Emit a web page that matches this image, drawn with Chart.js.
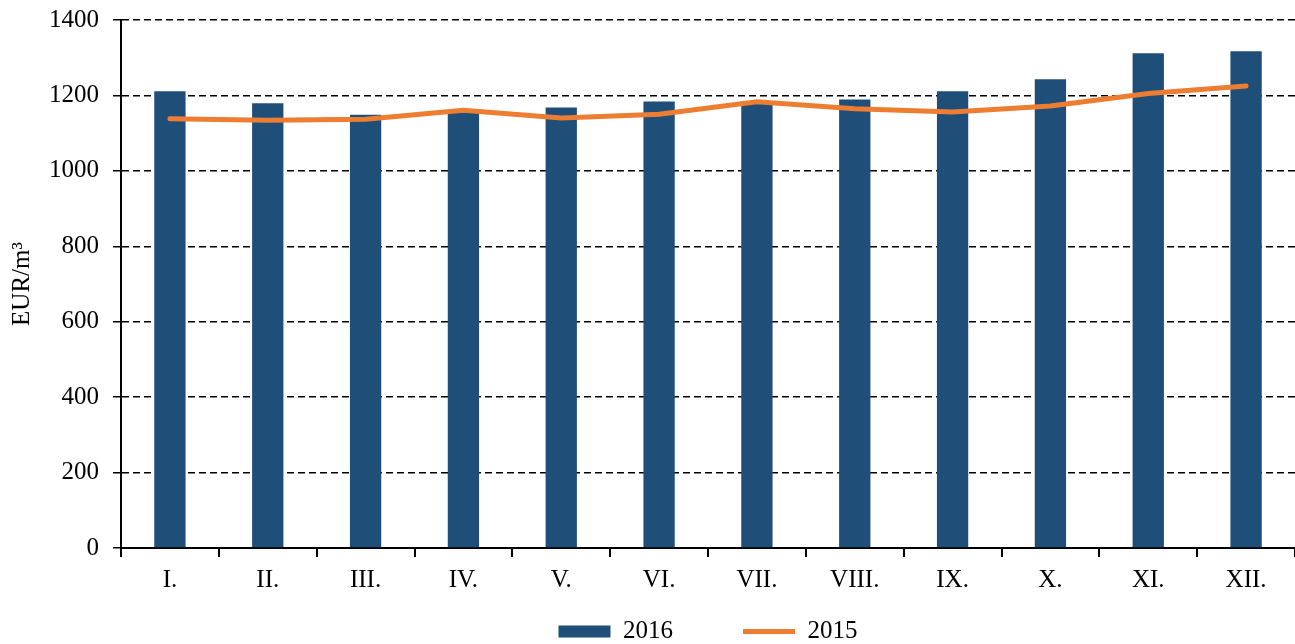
<!DOCTYPE html>
<html>
<head>
<meta charset="utf-8">
<script src="https://cdn.jsdelivr.net/npm/chart.js@4.4.0/dist/chart.umd.min.js"></script>
<style>
    html, body { margin: 0; padding: 0; background: #fff; }
    #wrap { width: 1295px; height: 644px; }
</style>
</head>
<body>
<div id="wrap"><canvas id="chart" width="1295" height="644"></canvas></div>
<script>
// months (roman numerals) and prices in EUR/m3
const months = ['I.', 'II.', 'III.', 'IV.', 'V.', 'VI.', 'VII.', 'VIII.', 'IX.', 'X.', 'XI.', 'XII.'];
const values2016 = [1211, 1179, 1149, 1158, 1168, 1184, 1180, 1189, 1211, 1243, 1312, 1317];
const values2015 = [1138, 1134, 1137, 1161, 1140, 1150, 1183, 1165, 1156, 1172, 1205, 1225];
const yTicks = [0, 200, 400, 600, 800, 1000, 1200, 1400];

const font = 'Liberation Serif';

// legend padding is big (for the gap between items), so its box is cut
// short and then stretched upwards over the empty strip under the labels,
// and centred under the plot instead of the whole canvas
const legendShift = {
    id: 'legendShift',
    afterLayout(chart) {
        chart.legend.top = chart.legend.bottom - 95;
        chart.legend.left = chart.chartArea.left;
    }
};

var chart = new Chart(document.getElementById('chart'), {
    data: {
        labels: months,
        datasets: [{
            type: 'line',
            label: '2015',
            data: values2015,
            borderColor: '#ED7D31',
            backgroundColor: '#ED7D31',
            borderWidth: 5,
            pointRadius: 0,
            tension: 0,
            borderCapStyle: 'round',
            pointStyle: 'line',
            order: 0
        }, {
            type: 'bar',
            label: '2016',
            data: values2016,
            backgroundColor: '#1F4E79',
            borderWidth: 0,
            barPercentage: 0.32,
            categoryPercentage: 1,
            pointStyle: 'rect',
            order: 1
        }]
    },
    plugins: [legendShift],
    options: {
        responsive: false,
        animation: false,
        layout: { padding: { top: 0, right: 0, left: 7, bottom: 0 } },
        scales: {
            x: {
                offset: true,
                grid: { offset: true, drawOnChartArea: false, drawTicks: true, tickLength: 9, color: '#000', lineWidth: 2 },
                border: { color: '#000', width: 2 },
                ticks: { color: '#000', font: { family: font, size: 25 }, padding: 8, maxRotation: 0 }
            },
            y: {
                min: 0,
                max: 1400,
                afterBuildTicks: function (scale) {
                    scale.ticks = yTicks.map(v => ({ value: v }));
                },
                afterFit: function (scale) {
                    scale.width = 114;
                    scale.paddingTop = 20;
                },
                grid: {
                    color: '#000',
                    lineWidth: 1.5,
                    tickLength: 8,
                    tickColor: '#000',
                    tickBorderDash: [],
                    drawTicks: true
                },
                border: { color: '#000', width: 2, dash: [7, 4] },
                ticks: {
                    color: '#000',
                    font: { family: font, size: 25 },
                    padding: 14,
                    callback: function (v) { return String(v); }
                },
                title: {
                    display: true,
                    text: 'EUR/m³',
                    color: '#000',
                    font: { family: font, size: 25 },
                    padding: 0
                }
            }
        },
        plugins: {
            legend: {
                position: 'bottom',
                reverse: true,
                maxHeight: 41,
                labels: {
                    color: '#000',
                    font: { family: font, size: 25 },
                    usePointStyle: true,
                    pointStyleWidth: 52,
                    boxHeight: 12,
                    padding: 70
                }
            },
            tooltip: { enabled: false }
        }
    }
});
</script>
</body>
</html>
